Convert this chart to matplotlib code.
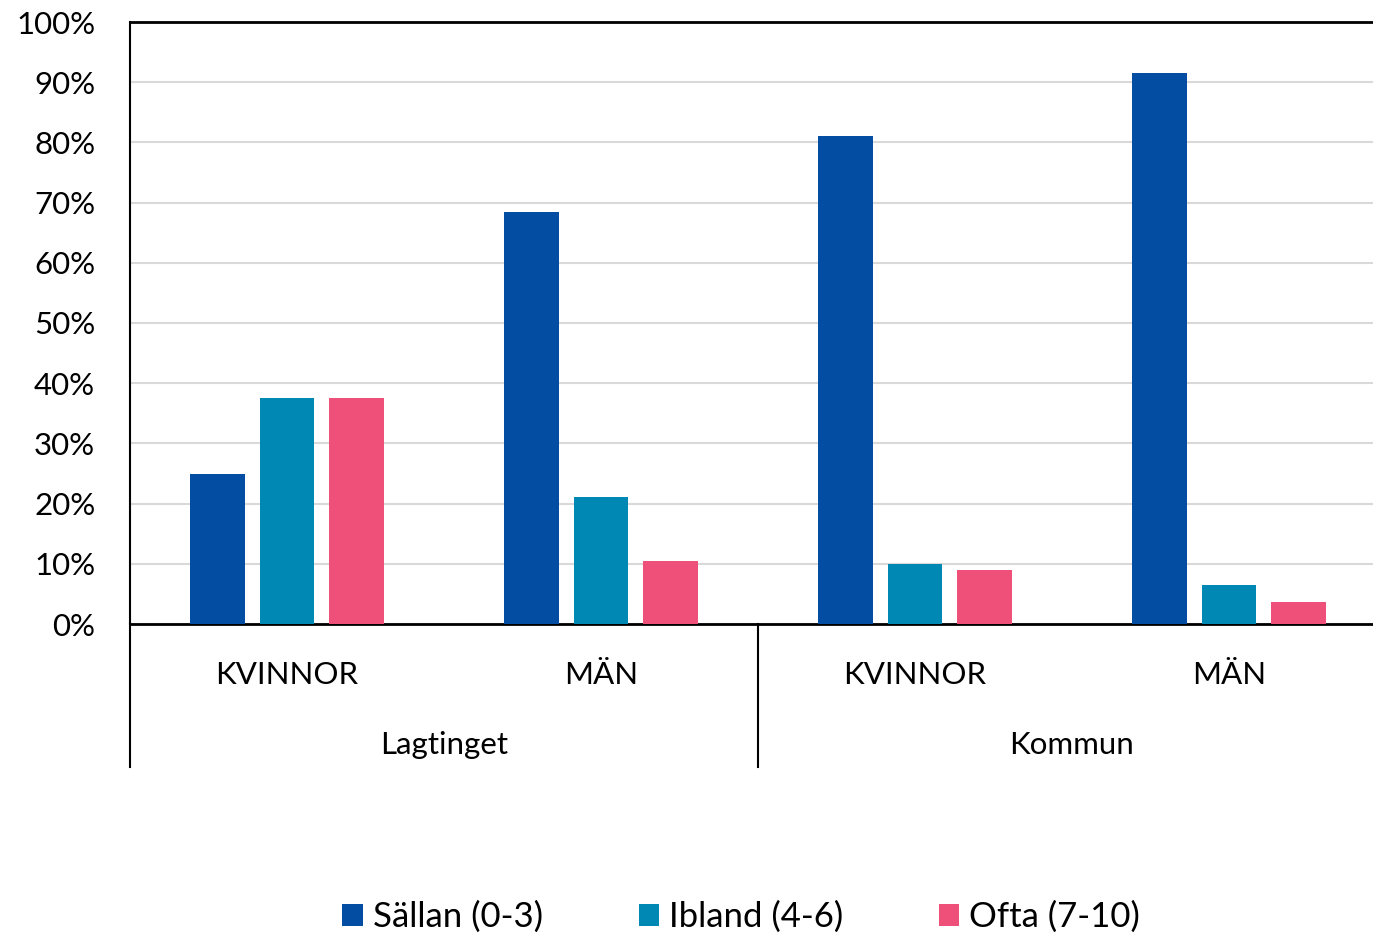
import numpy as np
import matplotlib.pyplot as plt
import matplotlib.transforms as mtransforms

# Data
groups = ['Lagtinget', 'Kommun']
categories = ['KVINNOR', 'MÄN', 'KVINNOR', 'MÄN']
series_names = ['Sällan (0-3)', 'Ibland (4-6)', 'Ofta (7-10)']
sallan = [25.0, 68.4, 81.1, 91.5]
ibland = [37.5, 21.1, 10.0, 6.5]
ofta = [37.5, 10.5, 9.0, 3.7]
colors = ['#034EA2', '#0088B5', '#EF5079']

plt.rcParams['font.family'] = ['Lato', 'DejaVu Sans']
fs = 22.5

fig = plt.figure(figsize=(13.73, 9.34), dpi=100)
# plot area runs a little past the right edge of the picture
ax = fig.add_axes([130/1373, 1 - 624/934, 1256/1373, (624 - 22)/934])

x = np.arange(len(categories))
width = 0.175
offset = 0.221
for i, (vals, name) in enumerate(zip([sallan, ibland, ofta], series_names)):
    ax.bar(x + (i - 1)*offset, vals, width, color=colors[i], label=name, zorder=3)

ax.set_xlim(-0.5, 3.5)
ax.set_ylim(0, 100)
ax.set_yticks(np.arange(0, 101, 10))
ax.set_yticklabels([f'{v}%' for v in range(0, 101, 10)], fontsize=fs)
ax.tick_params(axis='y', length=0, pad=25)
ax.set_xticks([])
ax.grid(axis='y', color='#d9d9d9', linewidth=1.5, zorder=0)

ax.spines['right'].set_visible(False)
ax.spines['top'].set_linewidth(2)
ax.spines['bottom'].set_linewidth(2)
ax.spines['left'].set_linewidth(1.5)

# hierarchical category axis
trans = mtransforms.blended_transform_factory(ax.transData, ax.transAxes)
depth = -(767 - 624) / 602
for xv in [-0.5, 1.5]:
    ax.plot([xv, xv], [0, depth], color='black', lw=1.5, transform=trans, clip_on=False)
for xi, lab in zip(x, categories):
    ax.text(xi, -(675 - 624) / 602, lab, transform=trans, ha='center', va='center', fontsize=fs)
for gi, g in enumerate(groups):
    ax.text(2*gi + 0.5, -(745 - 624) / 602, g, transform=trans, ha='center', va='center', fontsize=fs)

fig.legend(loc='center', bbox_to_anchor=(0.54, 1 - 917/934), ncol=3, frameon=False,
           fontsize=25, handlelength=0.58, handleheight=0.58, handletextpad=0.3,
           columnspacing=2.75)

fig.savefig('out.png', dpi=100)
